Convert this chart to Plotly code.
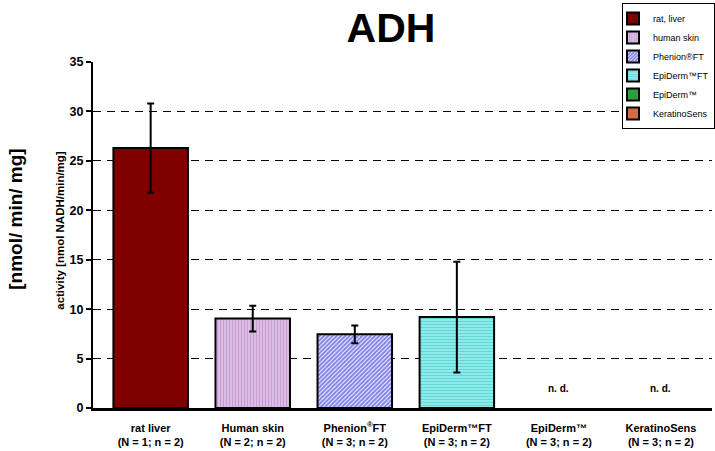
import plotly.graph_objects as go

# ---- data ----
categories = ["rat liver", "Human skin", "Phenion®FT", "EpiDerm™FT", "EpiDerm™", "KeratinoSens"]
tick_labels = [
    "rat liver<br>(N = 1; n = 2)",
    "Human skin<br>(N = 2; n = 2)",
    "Phenion<sup>®</sup>FT<br>(N = 3; n = 2)",
    "EpiDerm™FT<br>(N = 3; n = 2)",
    "EpiDerm™<br>(N = 3; n = 2)",
    "KeratinoSens<br>(N = 3; n = 2)",
]
legend_names = ["rat, liver", "human skin", "Phenion®FT", "EpiDerm™FT", "EpiDerm™", "KeratinoSens"]
activity = [26.3, 9.05, 7.45, 9.2, None, None]
activity_sd = [4.5, 1.3, 0.9, 5.6, None, None]
not_detected = ["EpiDerm™", "KeratinoSens"]
nd_level = 2.0
y_ticks = [0, 5, 10, 15, 20, 25, 30, 35]
grid_vals = [5, 10, 15, 20, 25, 30]

styles = [
    dict(color="#800000"),
    dict(color="white", pattern=dict(shape="|", fgcolor="#9850B0", bgcolor="#F4E8F6", size=3, solidity=0.7)),
    dict(color="white", pattern=dict(shape="/", fgcolor="#0808D8", bgcolor="white", size=3, solidity=0.7)),
    dict(color="white", pattern=dict(shape="-", fgcolor="#18AAAA", bgcolor="#B0FFFF", size=3, solidity=0.65)),
    dict(color="#2E9E3E"),
    dict(color="#D07040"),
]

fig = go.Figure()
for i, cat in enumerate(categories):
    m = dict(styles[i])
    m["line"] = dict(color="black", width=2)
    yv = activity[i]
    ev = activity_sd[i]
    fig.add_trace(go.Bar(
        x=[cat], y=[yv], name=legend_names[i], width=0.73,
        marker=m,
        error_y=dict(type="data", array=[ev], visible=ev is not None,
                     color="black", thickness=2, width=3.5),
        showlegend=True,
    ))

for cat in not_detected:
    fig.add_annotation(x=cat, y=nd_level, text="<b>n. d.</b>", showarrow=False,
                       font=dict(family="Arial, Liberation Sans", size=10, color="black"))

W, H = 715, 451
L, R, T, B = 93, 3, 62, 42.5

fig.update_layout(
    width=W, height=H,
    margin=dict(l=L, r=R, t=T, b=B, pad=0, autoexpand=False),
    paper_bgcolor="white", plot_bgcolor="white",
    barmode="overlay",
    font=dict(family="Arial, Liberation Sans", color="black"),
    title=dict(text="<b>ADH</b>", x=391 / W, xref="container", xanchor="center",
               y=1 - 28 / H, yref="container", yanchor="middle",
               font=dict(family="Arial, Liberation Sans", size=41, color="black")),
    legend=dict(x=622 / W, xref="container", xanchor="left",
                y=1 - 3 / H, yref="container", yanchor="top",
                bgcolor="white", bordercolor="black", borderwidth=1,
                font=dict(family="Arial, Liberation Sans", size=9, color="black"),
                itemwidth=30, tracegroupgap=0, indentation=-10),
    showlegend=True,
)

fig.update_xaxes(
    type="category", categoryorder="array", categoryarray=categories,
    tickvals=categories, ticktext=["<b>" + t.replace("<br>", "</b><br><b>") + "</b>" for t in tick_labels],
    range=[-0.565, 5.5],
    showline=True, linecolor="black", linewidth=2.5,
    ticks="", showgrid=False, zeroline=False,
    ticklabelstandoff=8,
    tickfont=dict(family="Liberation Sans Narrow, Arial Narrow, Arial", size=11, color="black"),
)

fig.update_yaxes(
    range=[0, 35], tickvals=y_ticks, ticktext=[f"<b>{v}</b>" for v in y_ticks],
    showline=True, linecolor="black", linewidth=2,
    ticks="outside", ticklen=5, tickwidth=1.5, tickcolor="black",
    showgrid=False, zeroline=False,
    tickfont=dict(family="Arial, Liberation Sans", size=12.5, color="black"),
    minor=dict(tickvals=grid_vals, showgrid=True, gridcolor="black", gridwidth=1,
               griddash="8px,6px", ticks=""),
)

plot_h = H - T - B
fig.add_annotation(xref="paper", yref="paper", x=(16 - L) / (W - L - R), y=(H - B - 220) / plot_h,
                   text="<b>[nmol/ min/ mg]</b>", textangle=-90, showarrow=False,
                   xanchor="center", yanchor="middle",
                   font=dict(family="Arial, Liberation Sans", size=19, color="black"))
fig.add_annotation(xref="paper", yref="paper", x=(60 - L) / (W - L - R), y=(H - B - 231) / plot_h,
                   text="<b>activity [nmol NADH/min/mg]</b>", textangle=-90, showarrow=False,
                   xanchor="center", yanchor="middle",
                   font=dict(family="Arial, Liberation Sans", size=11.5, color="black"))

fig.write_html("out.html", config={"displayModeBar": False},
               post_script="document.body.style.margin='0';document.body.style.overflow='hidden';")
